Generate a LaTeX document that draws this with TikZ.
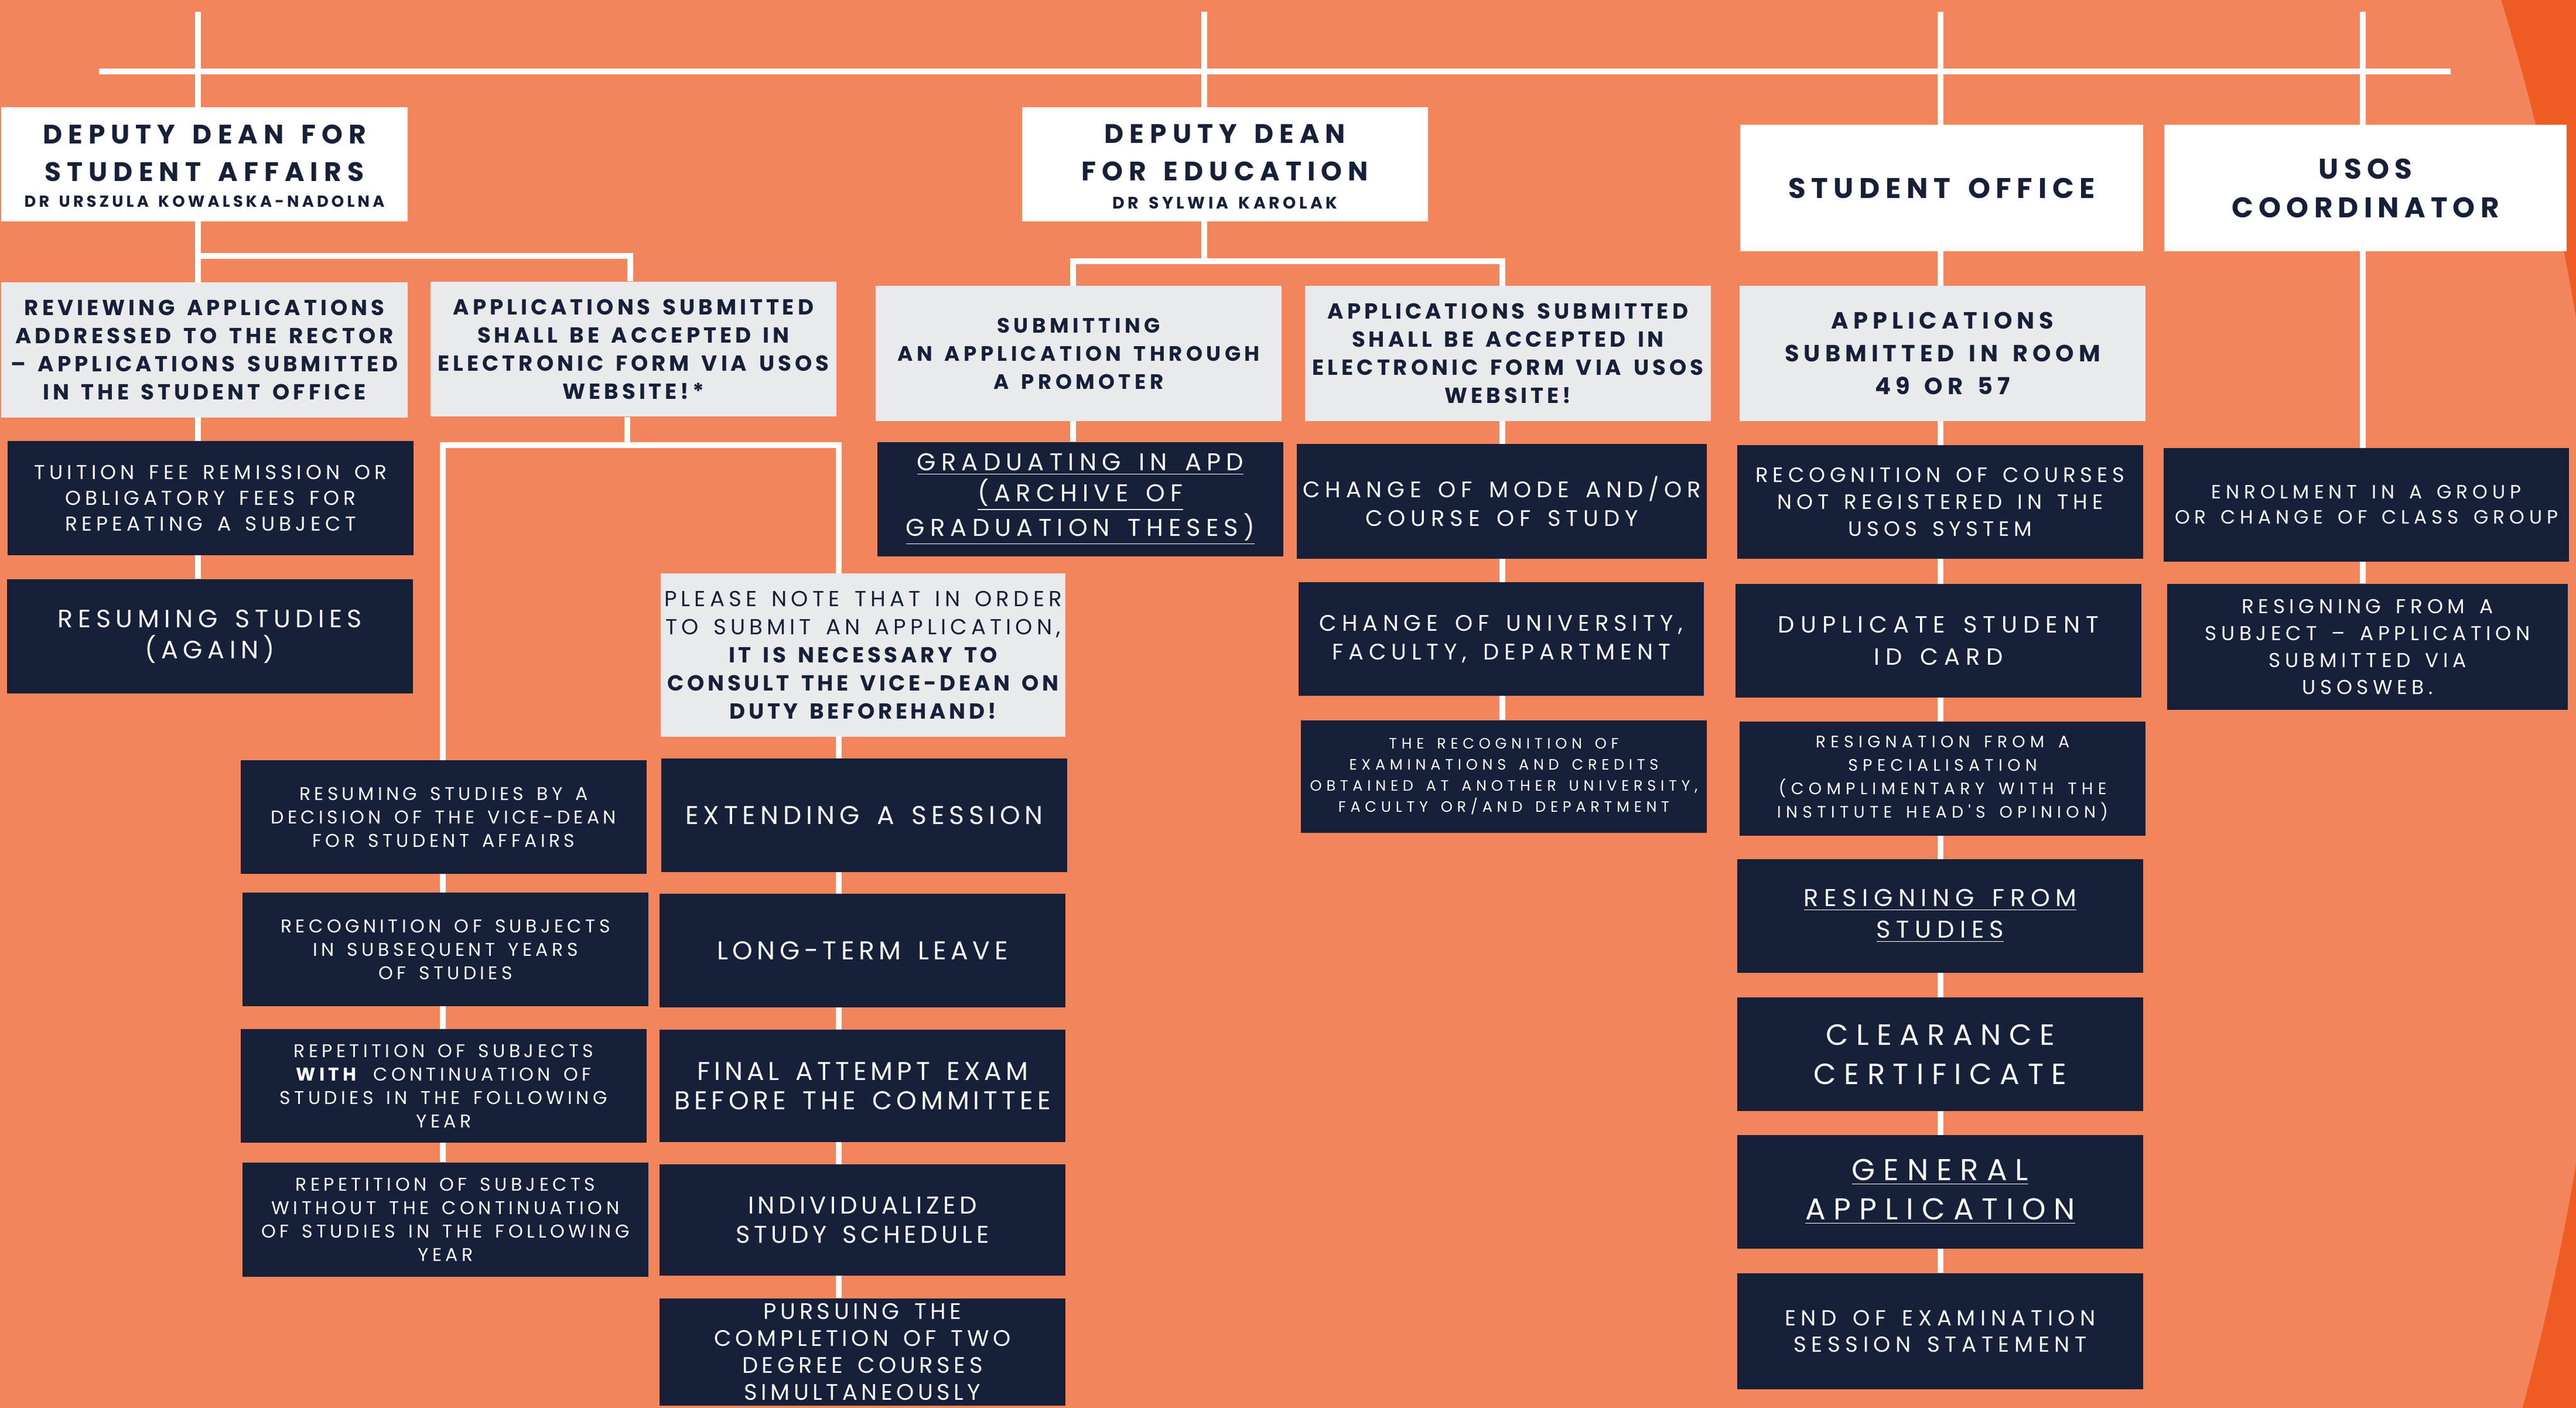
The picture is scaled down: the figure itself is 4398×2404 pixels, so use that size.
\documentclass[tikz,border=0pt]{standalone}
\usepackage{fontspec}
\setmainfont{Poppins}
\newfontfamily\hdf{Poppins}[WordSpace=1.5]
\newfontfamily\bxf{Poppins}[WordSpace=1.5]
\usetikzlibrary{backgrounds}
\pgfdeclarelayer{bgzero}
\pgfsetlayers{bgzero,background,main}
\definecolor{bgA}{HTML}{F2855B}
\definecolor{bgB}{HTML}{EE5C24}
\definecolor{navy}{HTML}{172039}
\definecolor{greyb}{HTML}{E8EAEC}
\newcommand\fs[2]{\fontsize{#1}{#2}\selectfont}
\newcommand\ls[1]{\addfontfeatures{LetterSpace=#1}}
\newcommand\rbox[7]{\node[#1, minimum width={(#5-#3)*0.25pt}, minimum height={(#6-#4)*0.25pt}] (#2) at ({(#3+#5)/2},{(#4+#6)/2}) {#7};}
\tikzset{
  wbox/.style={fill=white, text=navy, inner sep=0pt, align=center},
  gbox/.style={fill=greyb, text=navy, inner sep=0pt, align=center},
  nbox/.style={fill=navy, text=white, inner sep=0pt, align=center},
  conn/.style={draw=white, line width=2.5pt},
  ttl/.style={text=navy, inner sep=0pt, align=center}
}
\begin{document}
\begin{tikzpicture}[x=0.25pt,y=-0.25pt]
\useasboundingbox (0,0) rectangle (4398,2404);
\clip (0,0) rectangle (4398,2404);
\begin{pgfonlayer}{bgzero}
\fill[bgB] (0,0) rectangle (4398,2404);
\fill[bgA] (133,1265) circle[radius=1081.25pt];
\end{pgfonlayer}

% ---- heads
\rbox{wbox}{dds}{2}{183}{696}{378}{}
\node[ttl, font=\hdf\ls{22}\bfseries\fs{11.4}{16}] (ddsT) at (349,261) {DEPUTY DEAN FOR\\STUDENT AFFAIRS};
\node[ttl, font=\hdf\ls{19}\bfseries\fs{6.8}{9}] (ddsS) at (349,343.5) {DR URSZULA KOWALSKA-NADOLNA};
\rbox{wbox}{dde}{1745}{183}{2438}{378}{}
\node[ttl, font=\hdf\ls{22}\bfseries\fs{11.4}{16}] (ddeT) at (2091.5,261) {DEPUTY DEAN\\FOR EDUCATION};
\node[ttl, font=\hdf\ls{19}\bfseries\fs{7.1}{9}] (ddeS) at (2091.5,347) {DR SYLWIA KAROLAK};
\rbox{wbox,font=\hdf\ls{20}\bfseries\fs{12.1}{16.5}}{so}{2971}{213}{3659}{429}{STUDENT OFFICE}
\rbox{wbox,font=\hdf\ls{19}\bfseries\fs{12.1}{16.5}}{usos}{3695}{213}{4382}{429}{USOS\\COORDINATOR}

% ---- grey boxes
\rbox{gbox,font=\hdf\ls{16}\bfseries\fs{9.3}{12}}{rev}{2}{482}{696}{713}{REVIEWING APPLICATIONS\\ADDRESSED TO THE RECTOR\\– APPLICATIONS SUBMITTED\\IN THE STUDENT OFFICE}
\rbox{gbox,font=\hdf\ls{16}\bfseries\fs{9.3}{12}}{appA}{735}{481}{1428}{711}{APPLICATIONS SUBMITTED\\SHALL BE ACCEPTED IN\\ELECTRONIC FORM VIA USOS\\WEBSITE!*}
\rbox{gbox,font=\hdf\ls{18}\bfseries\fs{8.9}{12}}{sub}{1495}{488}{2188}{719}{SUBMITTING\\AN APPLICATION THROUGH\\A PROMOTER}
\rbox{gbox,font=\hdf\ls{16}\bfseries\fs{9.3}{12}}{appB}{2228}{488}{2921}{719}{APPLICATIONS SUBMITTED\\SHALL BE ACCEPTED IN\\ELECTRONIC FORM VIA USOS\\WEBSITE!}
\rbox{gbox,font=\hdf\ls{20}\bfseries\fs{10}{14}}{room}{2970}{488}{3663}{719}{APPLICATIONS\\SUBMITTED IN ROOM\\49 OR 57}
\rbox{gbox,font=\hdf\ls{19}\fs{9.3}{12}}{note}{1128}{979}{1819}{1258}{PLEASE NOTE THAT IN ORDER\\TO SUBMIT AN APPLICATION,\\{\ls{15}\bfseries IT IS NECESSARY TO}\\{\ls{15}\bfseries CONSULT THE VICE-DEAN ON}\\{\ls{15}\bfseries DUTY BEFOREHAND!}}

% ---- student affairs column
\rbox{nbox,font=\bxf\ls{21}\fs{8.6}{11}}{tuit}{13}{753}{706}{948}{TUITION FEE REMISSION OR\\OBLIGATORY FEES FOR\\REPEATING A SUBJECT}
\rbox{nbox,font=\bxf\ls{20}\fs{10.7}{13.25}}{resA}{12}{989}{705}{1184}{RESUMING STUDIES\\(AGAIN)}
\rbox{nbox,font=\bxf\ls{20}\fs{7.9}{10}}{lA}{411}{1298}{1104}{1492}{RESUMING STUDIES BY A\\DECISION OF THE VICE-DEAN\\FOR STUDENT AFFAIRS}
\rbox{nbox,font=\bxf\ls{20}\fs{7.9}{10}}{lB}{414}{1524}{1107}{1718}{RECOGNITION OF SUBJECTS\\IN SUBSEQUENT YEARS\\OF STUDIES}
\rbox{nbox,font=\bxf\ls{20}\fs{7.9}{10}}{lC}{411}{1757}{1104}{1951}{REPETITION OF SUBJECTS\\\textbf{WITH} CONTINUATION OF\\STUDIES IN THE FOLLOWING\\YEAR}
\rbox{nbox,font=\bxf\ls{20}\fs{7.9}{10}}{lD}{414}{1985}{1107}{2180}{REPETITION OF SUBJECTS\\WITHOUT THE CONTINUATION\\OF STUDIES IN THE FOLLOWING\\YEAR}
\rbox{nbox,font=\bxf\ls{18}\fs{11}{12.5}}{rA}{1129}{1295}{1822}{1489}{EXTENDING A SESSION}
\rbox{nbox,font=\bxf\ls{17}\fs{11}{12.5}}{rB}{1126}{1526}{1819}{1720}{LONG-TERM LEAVE}
\rbox{nbox,font=\bxf\ls{16}\fs{11}{12.5}}{rC}{1126}{1758}{1819}{1950}{FINAL ATTEMPT EXAM\\BEFORE THE COMMITTEE}
\rbox{nbox,font=\bxf\ls{16}\fs{10.4}{12.5}}{rD}{1126}{1988}{1819}{2178}{INDIVIDUALIZED\\STUDY SCHEDULE}
\rbox{nbox,font=\bxf\ls{17}\fs{9.6}{11.5}}{rE}{1126}{2217}{1819}{2400}{PURSUING THE\\COMPLETION OF TWO\\DEGREE COURSES\\SIMULTANEOUSLY}

% ---- education column
\rbox{nbox,font=\bxf\ls{22}\fs{10.4}{13.25}}{grad}{1498}{755}{2191}{950}{\underline{GRADUATING IN APD}\\\underline{(ARCHIVE OF}\\\underline{GRADUATION THESES)}}
\rbox{nbox,font=\bxf\ls{23}\fs{9.6}{12.25}}{mode}{2214}{758}{2914}{954}{CHANGE OF MODE AND/OR\\COURSE OF STUDY}
\rbox{nbox,font=\bxf\ls{23}\fs{9.6}{12.25}}{univ}{2217}{994}{2909}{1188}{CHANGE OF UNIVERSITY,\\FACULTY, DEPARTMENT}
\rbox{nbox,font=\bxf\ls{30}\fs{6.4}{9}}{exam}{2221}{1230}{2914}{1422}{THE RECOGNITION OF\\EXAMINATIONS AND CREDITS\\OBTAINED AT ANOTHER UNIVERSITY,\\FACULTY OR/AND DEPARTMENT}

% ---- student office column
\rbox{nbox,font=\bxf\ls{22}\fs{8.9}{11.5}}{cour}{2966}{760}{3659}{954}{RECOGNITION OF COURSES\\NOT REGISTERED IN THE\\USOS SYSTEM}
\rbox{nbox,font=\bxf\ls{25}\fs{10}{13.75}}{dup}{2963}{997}{3656}{1191}{DUPLICATE STUDENT\\ID CARD}
\rbox{nbox,font=\bxf\ls{29}\fs{7.1}{10}}{spec}{2970}{1232}{3663}{1427}{RESIGNATION FROM A\\SPECIALISATION\\(COMPLIMENTARY WITH THE\\INSTITUTE HEAD'S OPINION)}
\rbox{nbox,font=\bxf\ls{23}\fs{10.4}{13.5}}{rstud}{2966}{1467}{3659}{1661}{\underline{RESIGNING FROM}\\\underline{STUDIES}}
\rbox{nbox,font=\bxf\ls{27}\fs{12.5}{16.75}}{clear}{2966}{1703}{3659}{1897}{CLEARANCE\\CERTIFICATE}
\rbox{nbox,font=\bxf\ls{27}\fs{12.9}{16.75}}{gen}{2966}{1938}{3659}{2132}{\underline{GENERAL}\\\underline{APPLICATION}}
\rbox{nbox,font=\bxf\ls{23}\fs{9.3}{11.25}}{endx}{2966}{2174}{3659}{2372}{END OF EXAMINATION\\SESSION STATEMENT}

% ---- usos column
\rbox{nbox,font=\bxf\ls{24}\fs{8.2}{10.75}}{enrol}{3694}{765}{4386}{959}{ENROLMENT IN A GROUP\\OR CHANGE OF CLASS GROUP}
\rbox{nbox,font=\bxf\ls{22}\fs{8.6}{11.5}}{rsub}{3700}{997}{4384}{1212}{RESIGNING FROM A\\SUBJECT – APPLICATION\\SUBMITTED VIA\\USOSWEB.}

% ---- connectors
\begin{pgfonlayer}{background}
\coordinate (t1) at (338,20);
\coordinate (t2) at (2056,20);
\coordinate (t3) at (3313,20);
\coordinate (t4) at (4034,20);
\coordinate (busL) at (169,122);
\coordinate (busR) at (4184,122);
\coordinate (j1) at (1076,437);
\coordinate (j2) at (1071,760);
\coordinate (jL) at (756,760);
\coordinate (jR) at (1432,760);
\coordinate (e1) at (1832,446);
\coordinate (e2) at (2565,446);
\draw[conn] (busL) -- (busR);
\draw[conn] (t1) -- (t1 |- resA.north);
\draw[conn] (t1 |- j1) -- (j1) -- (j1 |- appA.north);
\draw[conn] (appA.south -| j2) -- (j2);
\draw[conn] (jL |- lD.north) -- (jL) -- (jR) -- (jR |- rE.north);
\draw[conn] (t2) -- (t2 |- e1);
\draw[conn] (e1 |- grad.north) -- (e1) -- (e2) -- (e2 |- exam.north);
\draw[conn] (t3) -- (t3 |- endx.north);
\draw[conn] (t4) -- (t4 |- rsub.north);
\end{pgfonlayer}
\end{tikzpicture}
\end{document}
